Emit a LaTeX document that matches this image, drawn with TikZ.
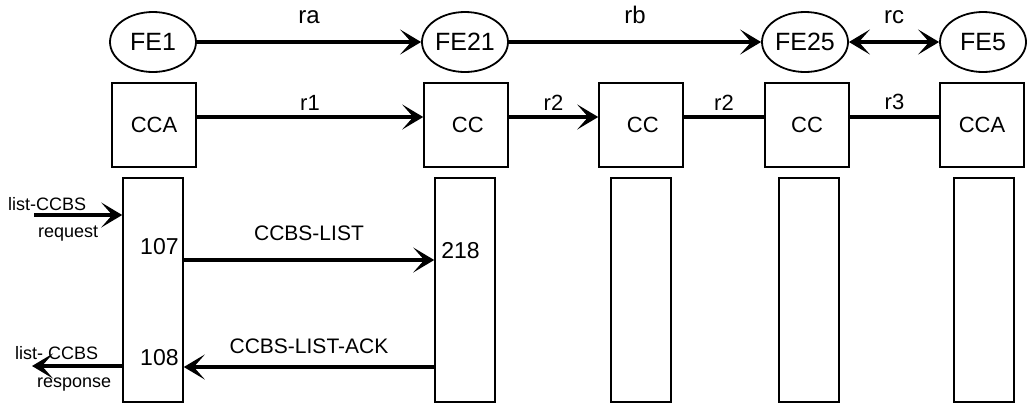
\documentclass[tikz,border=0pt]{standalone}
\usepackage{fontspec}
\setmainfont{Liberation Sans}
\usetikzlibrary{arrows.meta,shapes.geometric}

\newcommand{\fsz}[1]{\fontsize{#1}{#1}\selectfont}

\begin{document}
\begin{tikzpicture}[x=1pt,y=-1pt,
  fe/.style={draw,ellipse,line width=1.8pt,minimum width=86pt,minimum height=60pt,inner sep=0pt,font=\fsz{25}},
  ccbox/.style={draw,line width=1.6pt,minimum size=84pt,inner sep=0pt,font=\fsz{22}},
  lane/.style={draw,line width=1.6pt,minimum width=60pt,minimum height=224pt,inner sep=0pt},
  flow/.style={line width=3.6pt},
  headone/.style={-{Stealth[length=21pt,width=25pt,inset=11pt]}},
  headtwo/.style={{Stealth[length=21pt,width=25pt,inset=11pt]}-{Stealth[length=21pt,width=25pt,inset=11pt]}},
  lbl/.style={inner sep=0pt,font=\fsz{#1}}]

\useasboundingbox (0,0) rectangle (1027,405);

% functional entities
\node[fe] (fe1)  at (153,42) {FE1};
\node[fe] (fe21) at (465,42) {FE21};
\node[fe] (fe25) at (805,42) {FE25};
\node[fe] (fe5)  at (983,42) {FE5};

\draw[flow,headone] (fe1) -- (fe21) node[midway,above=16pt,lbl=24] {ra};
\draw[flow,headone] (fe21) -- (fe25) node[midway,above=16pt,lbl=24] {rb};
\draw[flow,headtwo] (fe25) -- (fe5) node[midway,above=16pt,lbl=24] {rc};

% call control
\node[ccbox] (cca1) at (154,125) {CCA};
\node[ccbox] (cc2)  at (466,125) {\,CC};
\node[ccbox] (cc3)  at (641,125) {\,CC};
\node[ccbox] (cc4)  at (807,125) {CC};
\node[ccbox] (cca5) at (982,125) {CCA};

\draw[flow,headone] ([yshift=8pt]cca1.east) -- ([yshift=8pt]cc2.west) node[midway,above=5pt,lbl=22] {r1};
\draw[flow,headone] ([yshift=8pt]cc2.east) -- ([yshift=8pt]cc3.west) node[midway,above=5pt,lbl=22] {r2};
\draw[flow] ([yshift=8pt]cc3.east) -- ([yshift=8pt]cc4.west) node[midway,above=5pt,lbl=22] {r2};
\draw[flow] ([yshift=8pt]cc4.east) -- ([yshift=8pt]cca5.west) node[midway,above=5pt,lbl=22] {r3};

% lanes
\node[lane] (lane1) at (153,290) {};
\node[lane] (lane2) at (465,290) {};
\node[lane] (lane3) at (641,290) {};
\node[lane] (lane4) at (809,290) {};
\node[lane] (lane5) at (984,290) {};

\node[lbl=23,anchor=base east] at ([xshift=-5pt,yshift=36pt]lane1.east) {107};
\node[lbl=23,anchor=base east] at ([xshift=-5pt,yshift=-75pt]lane1.east) {108};
\node[lbl=23,anchor=base west] at ([xshift=7pt,yshift=32pt]lane2.west) {218};

% messages
\coordinate (req) at (34,215);
\coordinate (rsp) at (32,366);

\draw[flow,headone] (req) -- ([yshift=75pt]lane1.west);
\draw[flow,headone] ([yshift=-76pt]lane1.west) -- (rsp);
\draw[flow,headone] ([yshift=30pt]lane1.east) -- ([yshift=30pt]lane2.west)
  node[midway,above=18pt,lbl=21] {CCBS-LIST};
\draw[flow,headone] ([yshift=-77pt]lane2.west) -- ([yshift=-77pt]lane1.east)
  node[midway,above=12pt,lbl=21] {CCBS-LIST-ACK};

\node[lbl=18,anchor=base west] at (8,210) {list-CCBS};
\node[lbl=18,anchor=base west] at (38,237) {request};
\node[lbl=18,anchor=base west] at (15,359) {list- CCBS};
\node[lbl=18,anchor=base west] at (37,387) {response};

\end{tikzpicture}
\end{document}
